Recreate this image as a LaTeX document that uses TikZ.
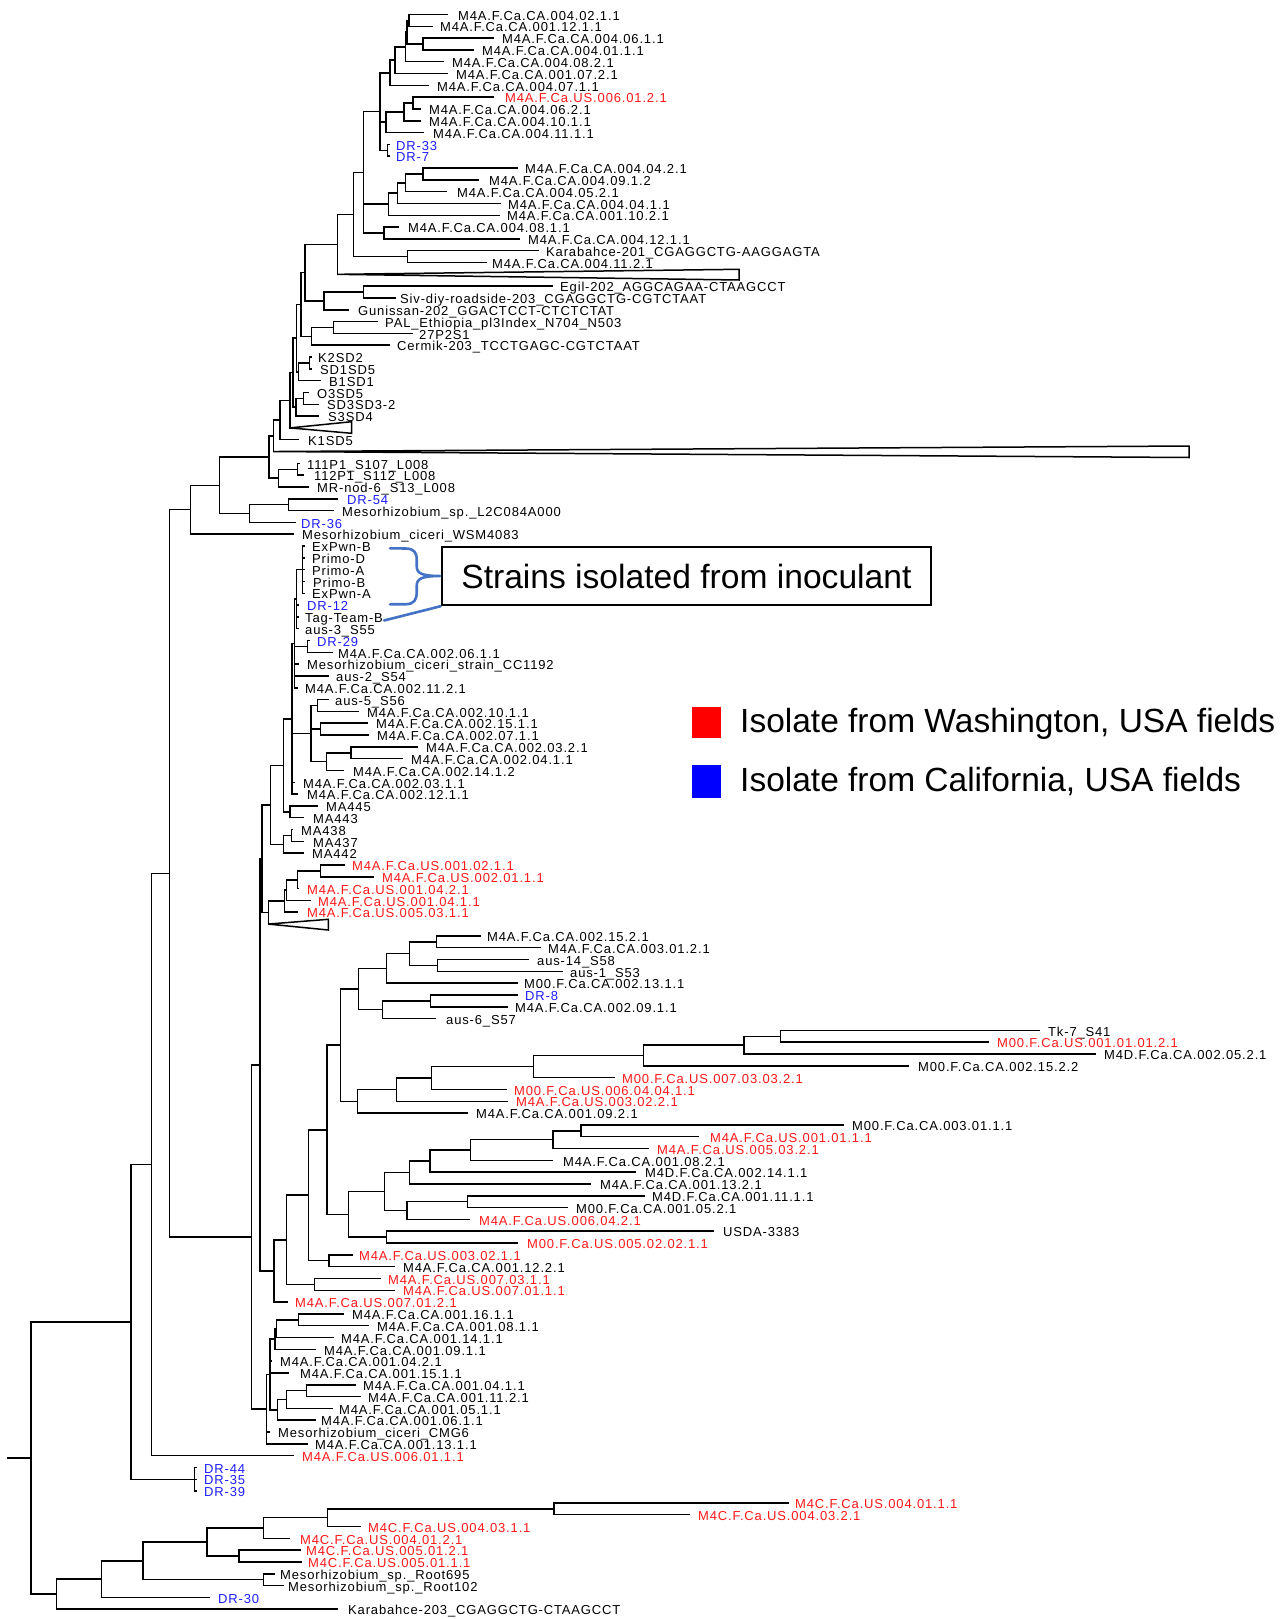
\documentclass[tikz,border=0pt]{standalone}
\usepackage{fontspec}
\setmainfont{Liberation Sans}
\newfontfamily\lblfam[LetterSpace=6.5]{Liberation Sans}
\usetikzlibrary{calc}
\definecolor{tred}{RGB}{255,25,25}
\definecolor{tblue}{RGB}{30,30,255}
\definecolor{brc}{RGB}{68,114,196}
\newcommand\lblfont{\lblfam\fontsize{13}{15}\selectfont}
\newcommand\yrow[1]{14.45+11.813*(#1)}
\newcommand\lf[5]{\coordinate (t#1) at (#2,{\yrow{#1}});\node[lbl,text=#4] (n#1) at (#3,{\yrow{#1}+5.7}) {#5};}
\newcommand\cl[4]{\path let \p1=($(#3)!0.5!(#4)$) in (#2pt,\y1) coordinate (#1);\draw[br] (#3 -| #1) -- (#4 -| #1) (#3 -| #1) -- (#3) (#4 -| #1) -- (#4);}
\newcommand\cx[2]{\draw[br] (#2 -| #1) -- (#2);}
\newcommand\tri[5]{\coordinate (t#1) at (#2,{\yrow{#1}});\draw[br,line join=miter] (t#1) -- (#3,#4) -- (#3,#5) -- cycle;}
\tikzset{
  br/.style={line width=1.5pt, line cap=rect},
  lbl/.style={anchor=base west, inner sep=0pt, font=\lblfont},
  big/.style={font=\fontsize{33.5}{38}\selectfont},
  bracel/.style={draw=brc, line width=2.6pt, line cap=round, line join=round},
}
\begin{document}
\begin{tikzpicture}[x=1pt,y=-1pt]
\fill[white] (0,0) rectangle (1284,1619);
\useasboundingbox (0,0) rectangle (1284,1619);
% ---------- leaves ----------
\lf{0}{447}{458}{black}{M4A.F.Ca.CA.004.02.1.1}
\lf{1}{432}{440}{black}{M4A.F.Ca.CA.001.12.1.1}
\lf{2}{493}{502}{black}{M4A.F.Ca.CA.004.06.1.1}
\lf{3}{473}{482}{black}{M4A.F.Ca.CA.004.01.1.1}
\lf{4}{443}{452}{black}{M4A.F.Ca.CA.004.08.2.1}
\lf{5}{447}{456}{black}{M4A.F.Ca.CA.001.07.2.1}
\lf{6}{428}{437}{black}{M4A.F.Ca.CA.004.07.1.1}
\lf{7}{493}{505}{tred}{M4A.F.Ca.US.006.01.2.1}
\lf{8}{420}{429}{black}{M4A.F.Ca.CA.004.06.2.1}
\lf{9}{420}{429}{black}{M4A.F.Ca.CA.004.10.1.1}
\lf{10}{423}{433}{black}{M4A.F.Ca.CA.004.11.1.1}
\lf{11}{389}{396}{tblue}{DR-33}
\lf{12}{389}{396}{tblue}{DR-7}
\lf{13}{517}{525}{black}{M4A.F.Ca.CA.004.04.2.1}
\lf{14}{478}{489}{black}{M4A.F.Ca.CA.004.09.1.2}
\lf{15}{446}{457}{black}{M4A.F.Ca.CA.004.05.2.1}
\lf{16}{500}{508}{black}{M4A.F.Ca.CA.004.04.1.1}
\lf{17}{499}{507}{black}{M4A.F.Ca.CA.001.10.2.1}
\lf{18}{398}{408}{black}{M4A.F.Ca.CA.004.08.1.1}
\lf{19}{519}{528}{black}{M4A.F.Ca.CA.004.12.1.1}
\lf{20}{538}{546}{black}{Karabahce-201\_CGAGGCTG-AAGGAGTA}
\lf{21}{486}{492}{black}{M4A.F.Ca.CA.004.11.2.1}
\tri{22}{337.4}{739}{269.3}{280}
\lf{23}{552}{560}{black}{Egil-202\_AGGCAGAA-CTAAGCCT}
\lf{24}{395}{400}{black}{Siv-diy-roadside-203\_CGAGGCTG-CGTCTAAT}
\lf{25}{348}{358}{black}{Gunissan-202\_GGACTCCT-CTCTCTAT}
\lf{26}{377}{385}{black}{PAL\_Ethiopia\_pl3Index\_N704\_N503}
\lf{27}{412}{419}{black}{27P2S1}
\lf{28}{389}{397}{black}{Cermik-203\_TCCTGAGC-CGTCTAAT}
\lf{29}{311}{318}{black}{K2SD2}
\lf{30}{311}{320}{black}{SD1SD5}
\lf{31}{320}{329}{black}{B1SD1}
\lf{32}{308}{317}{black}{O3SD5}
\lf{33}{318}{327}{black}{SD3SD3-2}
\lf{34}{318}{328}{black}{S3SD4}
\tri{35}{290}{351.7}{421.7}{433.3}
\lf{36}{298}{308}{black}{K1SD5}
\tri{37}{273.3}{1189}{446}{457.5}
\lf{38}{299}{307}{black}{111P1\_S107\_L008}
\lf{39}{303}{314}{black}{112P1\_S112\_L008}
\lf{40}{308}{317}{black}{MR-nod-6\_S13\_L008}
\lf{41}{337}{347}{tblue}{DR-54}
\lf{42}{333}{342}{black}{Mesorhizobium\_sp.\_L2C084A000}
\lf{43}{295}{301}{tblue}{DR-36}
\lf{44}{293}{302}{black}{Mesorhizobium\_ciceri\_WSM4083}
\lf{45}{304}{312}{black}{ExPwn-B}
\lf{46}{304}{312}{black}{Primo-D}
\lf{47}{304}{312}{black}{Primo-A}
\lf{48}{304}{313}{black}{Primo-B}
\lf{49}{304}{312}{black}{ExPwn-A}
\lf{50}{298}{307}{tblue}{DR-12}
\lf{51}{298}{305}{black}{Tag-Team-B}
\lf{52}{298}{305}{black}{aus-3\_S55}
\lf{53}{309}{317}{tblue}{DR-29}
\lf{54}{332}{338}{black}{M4A.F.Ca.CA.002.06.1.1}
\lf{55}{298}{307}{black}{Mesorhizobium\_ciceri\_strain\_CC1192}
\lf{56}{328}{336}{black}{aus-2\_S54}
\lf{57}{297}{305}{black}{M4A.F.Ca.CA.002.11.2.1}
\lf{58}{328}{335}{black}{aus-5\_S56}
\lf{59}{358}{367}{black}{M4A.F.Ca.CA.002.10.1.1}
\lf{60}{367}{376}{black}{M4A.F.Ca.CA.002.15.1.1}
\lf{61}{368}{377}{black}{M4A.F.Ca.CA.002.07.1.1}
\lf{62}{417}{426}{black}{M4A.F.Ca.CA.002.03.2.1}
\lf{63}{402}{411}{black}{M4A.F.Ca.CA.002.04.1.1}
\lf{64}{343}{353}{black}{M4A.F.Ca.CA.002.14.1.2}
\lf{65}{294}{303}{black}{M4A.F.Ca.CA.002.03.1.1}
\lf{66}{297}{307}{black}{M4A.F.Ca.CA.002.12.1.1}
\lf{67}{317}{326}{black}{MA445}
\lf{68}{303}{313}{black}{MA443}
\lf{69}{292}{301}{black}{MA438}
\lf{70}{303}{313}{black}{MA437}
\lf{71}{303}{312}{black}{MA442}
\lf{72}{344}{352}{tred}{M4A.F.Ca.US.001.02.1.1}
\lf{73}{373}{382}{tred}{M4A.F.Ca.US.002.01.1.1}
\lf{74}{298}{307}{tred}{M4A.F.Ca.US.001.04.2.1}
\lf{75}{310}{318}{tred}{M4A.F.Ca.US.001.04.1.1}
\lf{76}{297}{307}{tred}{M4A.F.Ca.US.005.03.1.1}
\tri{77}{268.3}{328.3}{919.3}{930}
\lf{78}{480}{487}{black}{M4A.F.Ca.CA.002.15.2.1}
\lf{79}{540}{548}{black}{M4A.F.Ca.CA.003.01.2.1}
\lf{80}{528}{537}{black}{aus-14\_S58}
\lf{81}{562}{570}{black}{aus-1\_S53}
\lf{82}{517}{524}{black}{M00.F.Ca.CA.002.13.1.1}
\lf{83}{517}{525}{tblue}{DR-8}
\lf{84}{507}{515}{black}{M4A.F.Ca.CA.002.09.1.1}
\lf{85}{435}{446}{black}{aus-6\_S57}
\lf{86}{1039}{1048}{black}{Tk-7\_S41}
\lf{87}{988}{997}{tred}{M00.F.Ca.US.001.01.01.2.1}
\lf{88}{1095}{1104}{black}{M4D.F.Ca.CA.002.05.2.1}
\lf{89}{908}{918}{black}{M00.F.Ca.CA.002.15.2.2}
\lf{90}{614}{622}{tred}{M00.F.Ca.US.007.03.03.2.1}
\lf{91}{506}{514}{tred}{M00.F.Ca.US.006.04.04.1.1}
\lf{92}{507}{516}{tred}{M4A.F.Ca.US.003.02.2.1}
\lf{93}{467}{476}{black}{M4A.F.Ca.CA.001.09.2.1}
\lf{94}{843}{852}{black}{M00.F.Ca.CA.003.01.1.1}
\lf{95}{698}{710}{tred}{M4A.F.Ca.US.001.01.1.1}
\lf{96}{648}{657}{tred}{M4A.F.Ca.US.005.03.2.1}
\lf{97}{552}{563}{black}{M4A.F.Ca.CA.001.08.2.1}
\lf{98}{635}{645}{black}{M4D.F.Ca.CA.002.14.1.1}
\lf{99}{590}{600}{black}{M4A.F.Ca.CA.001.13.2.1}
\lf{100}{644}{652}{black}{M4D.F.Ca.CA.001.11.1.1}
\lf{101}{567}{576}{black}{M00.F.Ca.CA.001.05.2.1}
\lf{102}{469}{479}{tred}{M4A.F.Ca.US.006.04.2.1}
\lf{103}{713}{723}{black}{USDA-3383}
\lf{104}{517}{527}{tred}{M00.F.Ca.US.005.02.02.1.1}
\lf{105}{352}{359}{tred}{M4A.F.Ca.US.003.02.1.1}
\lf{106}{394}{403}{black}{M4A.F.Ca.CA.001.12.2.1}
\lf{107}{380}{388}{tred}{M4A.F.Ca.US.007.03.1.1}
\lf{108}{394}{403}{tred}{M4A.F.Ca.US.007.01.1.1}
\lf{109}{287}{295}{tred}{M4A.F.Ca.US.007.01.2.1}
\lf{110}{343}{352}{black}{M4A.F.Ca.CA.001.16.1.1}
\lf{111}{368}{377}{black}{M4A.F.Ca.CA.001.08.1.1}
\lf{112}{333}{341}{black}{M4A.F.Ca.CA.001.14.1.1}
\lf{113}{315}{324}{black}{M4A.F.Ca.CA.001.09.1.1}
\lf{114}{271}{280}{black}{M4A.F.Ca.CA.001.04.2.1}
\lf{115}{288}{300}{black}{M4A.F.Ca.CA.001.15.1.1}
\lf{116}{355}{363}{black}{M4A.F.Ca.CA.001.04.1.1}
\lf{117}{360}{368}{black}{M4A.F.Ca.CA.001.11.2.1}
\lf{118}{332}{339}{black}{M4A.F.Ca.CA.001.05.1.1}
\lf{119}{315}{321}{black}{M4A.F.Ca.CA.001.06.1.1}
\lf{120}{269}{278}{black}{Mesorhizobium\_ciceri\_CMG6}
\lf{121}{307}{315}{black}{M4A.F.Ca.CA.001.13.1.1}
\lf{122}{293}{302}{tred}{M4A.F.Ca.US.006.01.1.1}
\lf{123}{196}{204}{tblue}{DR-44}
\lf{124}{196}{204}{tblue}{DR-35}
\lf{125}{196}{204}{tblue}{DR-39}
\lf{126}{788}{795}{tred}{M4C.F.Ca.US.004.01.1.1}
\lf{127}{689}{698}{tred}{M4C.F.Ca.US.004.03.2.1}
\lf{128}{360}{368}{tred}{M4C.F.Ca.US.004.03.1.1}
\lf{129}{289}{300}{tred}{M4C.F.Ca.US.004.01.2.1}
\lf{130}{300}{306}{tred}{M4C.F.Ca.US.005.01.2.1}
\lf{131}{301}{308}{tred}{M4C.F.Ca.US.005.01.1.1}
\lf{132}{274}{280}{black}{Mesorhizobium\_sp.\_Root695}
\lf{133}{283}{288}{black}{Mesorhizobium\_sp.\_Root102}
\lf{134}{209}{218}{tblue}{DR-30}
\lf{135}{337}{348}{black}{Karabahce-203\_CGAGGCTG-CTAAGCCT}
% ---------- clades: top ----------
\cl{A1}{409}{t0}{t1}
\cl{A2}{423}{t2}{t3}
\cl{A3}{407}{A1}{A2}
\cl{A4}{405.5}{A3}{t4}
\cl{A5}{395}{A4}{t5}
\cl{A6}{390}{A5}{t6}
\cl{B1}{413}{t7}{t8}
\cl{B2}{404}{B1}{t9}
\cl{B3}{386}{B2}{t10}
\cl{D1}{387.5}{t11}{t12}
\cl{C1}{380}{A6}{D1}\cx{C1}{B3}
\cl{F1}{423}{t13}{t14}
\cl{F2}{405.6}{F1}{t15}
\cl{F3}{397.7}{F2}{t16}
\cl{F4}{388.4}{F3}{t17}
\cl{G}{384}{t18}{t19}
\cl{E}{363.3}{C1}{G}\cx{E}{F4}
\cl{H}{407.4}{t20}{t21}
\cl{I}{353.6}{E}{H}
\cl{J}{337.4}{I}{t22}
\cl{Lg}{363.3}{t23}{t24}
\cl{Kg}{324}{Lg}{t25}
\cl{K}{305}{J}{Kg}
\cl{P1}{333.3}{t26}{t27}
\cl{P2}{311.7}{P1}{t28}
\cl{Q0}{301}{K}{P2}
\cl{S1}{309.3}{t29}{t30}
\cl{S2}{298.3}{S1}{t31}
\cl{Q1}{296.5}{Q0}{S2}
\cl{O1}{303.3}{t32}{t33}
\cl{O2}{296}{O1}{t34}
\cl{Q2}{293}{Q1}{O2}
\cl{R}{290}{Q2}{t35}
\cl{U}{280}{R}{t36}
\cl{V}{273.3}{U}{t37}
\cl{X1}{297.3}{t38}{t39}
\cl{X2}{278.3}{X1}{t40}
\cl{W}{269}{V}{X2}
\cl{Z1}{288.3}{t41}{t42}
\cl{Z2}{249.3}{Z1}{t43}
\cl{Y}{219.3}{W}{Z2}
\cl{AA}{190.7}{Y}{t44}
% ---------- inoculant region ----------
\cl{P5}{302.7}{t45}{t49}\cx{P5}{t46}\cx{P5}{t47}\cx{P5}{t48}
\cl{P6}{296.7}{P5}{t52}\cx{P6}{t50}\cx{P6}{t51}
\cl{DD}{307.3}{t53}{t54}
\cl{P7}{294.5}{P6}{t57}\cx{P7}{DD}\cx{P7}{t55}\cx{P7}{t56}
\cl{E1}{317.7}{t58}{t59}
\cl{E2}{320.7}{t60}{t61}
\cl{E3}{351}{t62}{t63}
\cl{E4}{326.7}{E3}{t64}
\cl{E5}{311}{E1}{E4}\cx{E5}{E2}
\cl{P8}{292}{P7}{t66}\cx{P8}{E5}\cx{P8}{t65}
\cl{M1}{290}{t67}{t68}
\cl{GG}{283.3}{P8}{M1}
\cl{M2}{291.7}{t69}{t70}
\cl{M3}{283.3}{M2}{t71}
\cl{HH}{270.7}{GG}{M3}
\cl{R1}{320.7}{t72}{t73}
\cl{R2}{297.7}{R1}{t74}
\cl{R3}{286.7}{R2}{t75}
\cl{R4}{284.3}{R3}{t76}
\cl{R5}{268.3}{R4}{t77}
\cl{II}{262}{HH}{R5}
% ---------- middle clade ----------
\cl{U1}{436.7}{t78}{t79}
\cl{U2}{437.3}{t80}{t81}
\cl{U3}{409.3}{U1}{U2}
\cl{U4}{386.7}{U3}{t82}
\cl{U5}{430.7}{t83}{t84}
\cl{U6}{382.3}{U5}{t85}
\cl{U7}{358.7}{U4}{U6}
\cl{V1}{780.5}{t86}{t87}
\cl{V2}{744.2}{V1}{t88}
\cl{V3}{643.3}{V2}{t89}
\cl{V4}{533.3}{V3}{t90}
\cl{V5}{431.7}{V4}{t91}
\cl{V6}{396.7}{V5}{t92}
\cl{V7}{357.5}{V6}{t93}
\cl{U8}{340.3}{U7}{V7}
\cl{W1}{580.8}{t94}{t95}
\cl{W2}{553.1}{W1}{t96}
\cl{W3}{470.4}{W2}{t97}
\cl{W4}{430}{W3}{t98}
\cl{W5}{409.6}{W4}{t99}
\cl{W6}{467.3}{t100}{t101}
\cl{W7}{406.9}{W6}{t102}
\cl{W8}{384.6}{W5}{W7}
\cl{W9}{386.5}{t103}{t104}
\cl{W10}{348.5}{W8}{W9}
\cl{U9}{326.8}{U8}{W10}
\cl{Xa}{328.8}{t105}{t106}
\cl{RR}{308.5}{U9}{Xa}
\cl{Xb}{314.6}{t107}{t108}
\cl{QQ}{286.5}{RR}{Xb}
\cl{PP}{274}{QQ}{t109}
\cl{JJ}{260}{II}{PP}
% ---------- 001 group ----------
\cl{Sa}{298.3}{t110}{t111}
\cl{Sb}{276.7}{Sa}{t112}
\cl{Sc}{275}{Sb}{t113}
\cl{Se}{306.7}{t116}{t117}
\cl{Sf}{286.7}{Se}{t118}
\cl{Sg}{277.7}{Sf}{t119}
\cl{Sd}{270}{Sc}{Sg}\cx{Sd}{t114}\cx{Sd}{t115}
\cl{OO}{266.7}{Sd}{t121}\cx{OO}{t120}
\cl{MM}{251.7}{JJ}{OO}
\cl{BB}{169.3}{AA}{MM}
\cl{LL}{151.7}{BB}{t122}
\cl{DR3}{194.3}{t123}{t125}\cx{DR3}{t124}
\cl{NN}{131}{LL}{DR3}
% ---------- bottom clade ----------
\cl{Ba}{553.8}{t126}{t127}
\cl{Bb}{327.4}{Ba}{t128}
\cl{Bc}{263.4}{Bb}{t129}
\cl{Bd}{238.8}{t130}{t131}
\cl{Be}{206.8}{Bc}{Bd}
\cl{Bf}{263.4}{t132}{t133}
\cl{Bg}{142.8}{Be}{Bf}
\cl{Bh}{101.5}{Bg}{t134}
\cl{Bi}{56.6}{Bh}{t135}
\cl{ROOT}{31}{NN}{Bi}
\path (ROOT) ++(-23,0) coordinate (rs);
\draw[br] (rs) -- (ROOT);
% ---------- annotation ----------
\node[draw, line width=2.4pt, minimum width=489pt, minimum height=58pt, inner sep=0pt, font=\fontsize{33.6}{38}\selectfont] (box) at (686.4,576) {Strains isolated from inoculant};
\coordinate (b1) at (390,548.3);
\coordinate (b2) at (390,604.3);
\coordinate (btip) at (440,576);
\draw[bracel] (b1) -- (406,548.5) .. controls (414,549) and (416.7,552) .. (416.7,560) -- (416.7,566) .. controls (416.7,573) and (421,576) .. (btip) .. controls (421,576) and (416.7,579) .. (416.7,586) -- (416.7,592) .. controls (416.7,600) and (414,604) .. (406,604.2) -- (b2);
\draw[bracel] ($(n51.east)+(1,1)$) -- (box.south west);
% ---------- legend ----------
\node[fill=red, minimum width=29pt, minimum height=31pt, inner sep=0pt] (sqr) at (706,722.5) {};
\node[fill=blue, minimum width=29pt, minimum height=33pt, inner sep=0pt] (sqb) at (706,781.5) {};
\node[big, anchor=base west, inner sep=0pt] (legr) at (740,732) {Isolate from Washington, USA fields};
\node[big, anchor=base west, inner sep=0pt] (legb) at (740,791) {Isolate from California, USA fields};
\end{tikzpicture}
\end{document}
